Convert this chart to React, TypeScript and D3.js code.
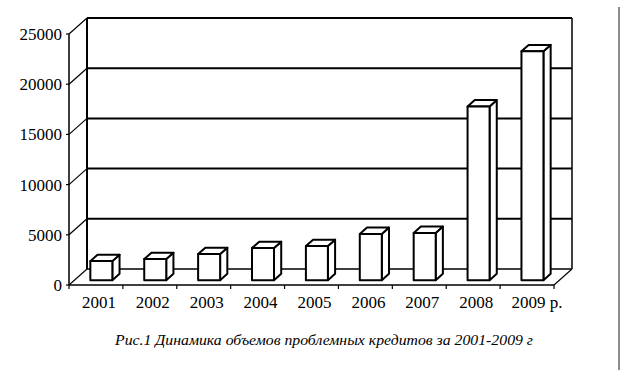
import React from "react";
import * as d3 from "d3";

const years = ["2001", "2002", "2003", "2004", "2005", "2006", "2007", "2008", "2009 р."];
const values = [1900, 2100, 2600, 3200, 3400, 4600, 4700, 17300, 22800];
const yTicks = [0, 5000, 10000, 15000, 20000, 25000];
const caption = "Рис.1 Динамика объемов проблемных кредитов за 2001-2009 г";

const W = 642;
const H = 380;
const X0 = 69;
const X1 = 554;
const DX = 18;
const DY = 16;
const F1 = 0.3;
const F2 = 0.7;
const BAR_W = 22;
const SERIF = "Liberation Serif, DejaVu Serif, serif";

export default function App() {
  const x = d3.scaleBand<string>().domain(years).range([X0, X1]).padding(0);
  const y = d3.scaleLinear().domain([0, 25000]).range([285, 34]);
  const bw = x.bandwidth();

  const pts = (arr: [number, number][]) => arr.map((p) => p.join(",")).join(" ");
  const ts = { fontFamily: SERIF, fill: "#000" };

  return (
    <svg
      width={W}
      height={H}
      style={{ position: "absolute", left: 0, top: 0, background: "#fff" }}
    >
      {/* back wall gridlines */}
      {yTicks.map((t) => (
        <line
          key={"g" + t}
          x1={X0 + DX}
          x2={X1 + DX}
          y1={y(t) - DY}
          y2={y(t) - DY}
          stroke="#000"
          strokeWidth={t === 0 ? 1.5 : 2}
        />
      ))}
      {/* back wall edges */}
      <line x1={X0 + DX} x2={X0 + DX} y1={y(25000) - DY} y2={y(0) - DY} stroke="#000" strokeWidth={2} />
      <line x1={X1 + DX} x2={X1 + DX} y1={y(25000) - DY} y2={y(0) - DY} stroke="#000" strokeWidth={1.5} />
      {/* side wall diagonals */}
      {yTicks.map((t) => (
        <line
          key={"d" + t}
          x1={X0}
          y1={y(t)}
          x2={X0 + DX}
          y2={y(t) - DY}
          stroke="#000"
          strokeWidth={1.2}
        />
      ))}
      {/* floor right diagonal */}
      <line x1={X1} y1={y(0)} x2={X1 + DX} y2={y(0) - DY} stroke="#000" strokeWidth={1.2} />
      {/* front axes */}
      <line x1={X0} x2={X0} y1={y(25000)} y2={y(0)} stroke="#000" strokeWidth={1.5} />
      <line x1={X0} x2={X1} y1={y(0)} y2={y(0)} stroke="#000" strokeWidth={1.5} />
      {/* y ticks & labels */}
      {yTicks.map((t) => (
        <g key={"t" + t}>
          <line x1={X0 - 3} x2={X0} y1={y(t)} y2={y(t)} stroke="#000" strokeWidth={1.2} />
          <text x={62} y={y(t)} dy="0.35em" textAnchor="end" fontSize={17} style={ts}>
            {t}
          </text>
        </g>
      ))}
      {/* x ticks */}
      {years.map((c) => (
        <line
          key={"xt" + c}
          x1={(x(c) as number) + bw}
          x2={(x(c) as number) + bw}
          y1={y(0)}
          y2={y(0) + 4}
          stroke="#000"
          strokeWidth={1.2}
        />
      ))}
      <line x1={X0} x2={X0} y1={y(0)} y2={y(0) + 4} stroke="#000" strokeWidth={1.2} />
      {/* x labels */}
      {years.map((c) => (
        <text
          key={"xl" + c}
          x={(x(c) as number) + bw / 2 + 3 + (c.length > 4 ? 7 : 0)}
          y={308}
          textAnchor="middle"
          fontSize={17}
          style={ts}
        >
          {c}
        </text>
      ))}
      {/* bars */}
      {years.map((c, i) => {
        const cx = (x(c) as number) + bw / 2 + F1 * DX;
        const l = cx - BAR_W / 2;
        const r = cx + BAR_W / 2;
        const b = y(0) - F1 * DY;
        const tp = y(values[i]) - F1 * DY;
        const ddx = (F2 - F1) * DX;
        const ddy = (F2 - F1) * DY;
        return (
          <g key={"b" + c} stroke="#000" strokeWidth={2} fill="#fff" strokeLinejoin="round">
            <polygon points={pts([[r, tp], [r + ddx, tp - ddy], [r + ddx, b - ddy], [r, b]])} />
            <polygon points={pts([[l, tp], [r, tp], [r + ddx, tp - ddy], [l + ddx, tp - ddy]])} />
            <rect x={l} y={tp} width={BAR_W} height={b - tp} />
          </g>
        );
      })}
      {/* caption */}
      <text
        x={324}
        y={345}
        textAnchor="middle"
        fontSize={14}
        fontStyle="italic"
        textLength={418}
        lengthAdjust="spacingAndGlyphs"
        style={ts}
      >
        {caption}
      </text>
      {/* right frame line */}
      <line x1={619} x2={619} y1={7} y2={370} stroke="#666" strokeWidth={1.5} />
    </svg>
  );
}
